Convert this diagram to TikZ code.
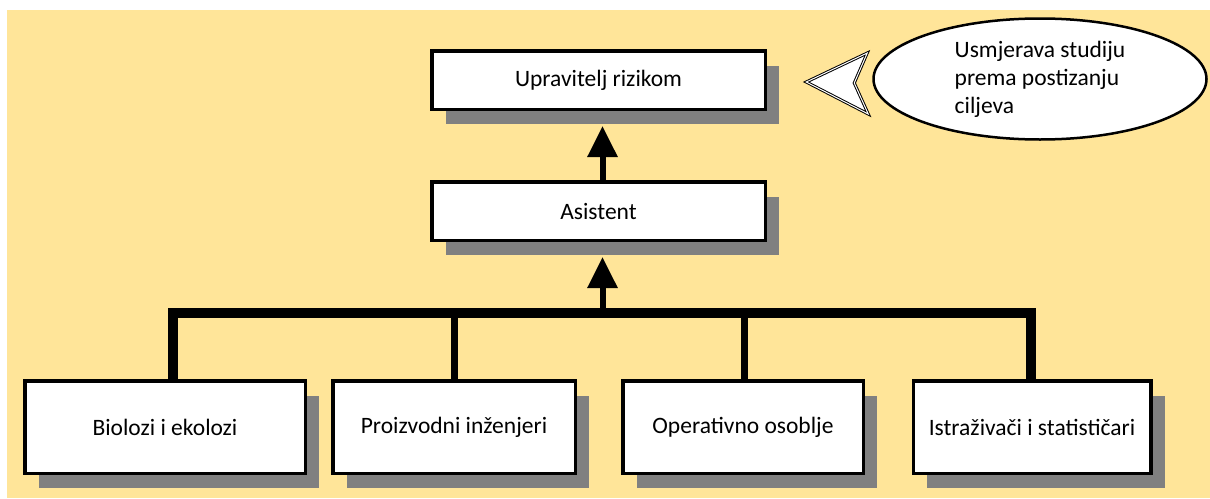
\documentclass[tikz,border=0pt]{standalone}
\usepackage{fontspec}
\setmainfont{Carlito}
\usepackage{tikz}
\usetikzlibrary{arrows.meta,shadows,shapes.geometric,positioning}
\definecolor{bgyellow}{RGB}{255,229,153}
\definecolor{shadowgray}{RGB}{128,128,128}

\begin{document}
\begin{tikzpicture}
[x=1pt,y=1pt,
font=\fontsize{23.5}{28}\selectfont,
rolebox/.style={draw,fill=white,line width=3.5pt,
drop shadow={shadow xshift=14pt,shadow yshift=-15pt,fill=shadowgray,opacity=1}},
level 1/.style={level distance=131pt},
level 2/.style={level distance=216pt,sibling distance=289pt,nodes={minimum height=92.5pt}},
edge from parent/.style={draw=none},
upline/.style={line width=6pt,-{Triangle[width=29pt,length=31pt]}}]
\useasboundingbox (0,0) rectangle (1210,-498);
\fill [bgyellow] (7,-10) rectangle (1210,-498);
\node (upr) [rolebox,minimum width=333.5pt,minimum height=58.5pt] at (598.5,-80) {Upravitelj rizikom}
child {node (asis) [rolebox,minimum width=333.5pt,minimum height=58.5pt] {Asistent}
child {node (bio) [rolebox,minimum width=280.5pt] {Biolozi i ekolozi}}
child {node (pro) [rolebox,minimum width=242.5pt] {Proizvodni inženjeri}}
child {node (ope) [rolebox,minimum width=240.5pt] {Operativno osoblje}}
child {node (ist) [rolebox,minimum width=237.5pt] {Istraživači i statističari}}
};
\draw [upline] ([xshift=4pt]asis.north) -- ([xshift=4pt,yshift=-15pt]upr.south);
\draw [line width=10pt] ([xshift=8pt]bio.north) -- ++(0,66) coordinate (bus) -| ([xshift=-1.5pt]ist.north);
\draw [line width=7pt] (pro.north) -- (pro.north |- bus);
\draw [line width=7pt] ([xshift=1.5pt]ope.north) -- ([xshift=1.5pt]ope.north |- bus);
\draw [upline] ([xshift=4pt]asis.south |- bus) -- ([xshift=4pt,yshift=-15pt]asis.south);
% callout
\node (goal) [ellipse,draw,fill=white,line width=2.5pt,minimum width=333pt,minimum height=121pt,align=left] at (1040,-79) {Usmjerava studiju\\prema postizanju\\ciljeva};
\filldraw [fill=white,line width=1pt,double=white,double distance=1pt,line join=miter]
([shift={(-5,26)}]goal.west) -- ([shift={(-66,-3)}]goal.west) -- ([shift={(-4,-35)}]goal.west) -- ([shift={(-18,-4)}]goal.west) -- cycle;
\end{tikzpicture}
\end{document}
